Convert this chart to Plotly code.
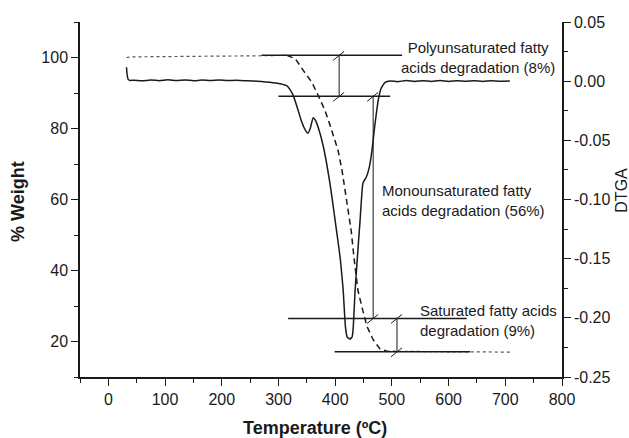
import plotly.graph_objects as go

# ---------------- data ----------------
# DTGA (right axis)
DTGA_T = [32, 33, 35, 38, 45, 60, 75, 90, 105, 120, 135, 150, 165, 180, 195, 210, 225, 240, 255, 270,
          285, 295, 303, 315, 321, 326, 333, 340, 347, 352, 356, 361, 365, 370, 379, 391, 400, 409, 414,
          418, 421, 426, 430, 432, 435, 439, 444, 449, 455, 460, 465, 470, 476, 481, 488, 497, 510, 525,
          540, 555, 570, 585, 600, 615, 630, 645, 660, 675, 690, 708]
DTGA_V = [0.0118, 0.006, 0.0015, 0.0006, 0.0008, 0.0003, 0.0010, 0.0004, 0.0011, 0.0005, 0.0010, 0.0004,
          0.0009, 0.0005, 0.0010, 0.0006, 0.0007, 0.0004, 0.0002, -0.0003, -0.0010, -0.0016, -0.0022,
          -0.0040, -0.0076, -0.012, -0.022, -0.033, -0.041, -0.044, -0.040, -0.031, -0.033, -0.039,
          -0.055, -0.087, -0.118, -0.150, -0.176, -0.207, -0.216, -0.218, -0.216, -0.207, -0.178, -0.150,
          -0.117, -0.086, -0.081, -0.073, -0.058, -0.037, -0.016, -0.006, -0.001, 0.0002, -0.0004, 0.0005,
          -0.0003, 0.0004, -0.0002, 0.0005, -0.0003, 0.0004, 0.0000, 0.0004, -0.0002, 0.0003, 0.0000, 0.0002]

# TGA (% weight, left axis)
TGA_T = [32, 40, 60, 100, 150, 200, 250, 300, 315, 330, 344, 359, 370, 382, 391, 400, 405, 412, 420, 428,
         434, 440, 447, 456, 467, 479, 491, 520, 560, 600, 640, 680, 712]
TGA_W = [100.0, 100.15, 100.2, 100.3, 100.35, 100.4, 100.45, 100.5, 100.6, 99.6, 96.3, 93.0, 89.3, 85.1,
         80.9, 76.7, 73.9, 68.3, 60.5, 51.5, 42.5, 34.5, 29.8, 24.3, 20.5, 17.9, 17.3, 17.2, 17.15, 17.1,
         17.1, 17.05, 17.0]

X_TICKS = [0, 100, 200, 300, 400, 500, 600, 700, 800]
LEFT_TICKS = [20, 40, 60, 80, 100]
RIGHT_TICKS = [-0.25, -0.20, -0.15, -0.10, -0.05, 0.00, 0.05]
RIGHT_LABELS = ["-0.25", "-0.20", "-0.15", "-0.10", "-0.05", "0.00", "0.05"]

# degradation step levels (% weight) and marker temperatures
LEVELS = [100.6, 89.05, 26.5, 17.1]
H_SPANS = [(270, 518), (300, 497), (317, 632), (399, 638)]
ARROWS = [(407, 0, 1), (467, 1, 2), (509, 2, 3)]   # x, from level idx, to level idx
LABELS = [
    ("Polyunsaturated fatty<br>acids degradation (8%)", 652, 100.0, "center"),
    ("Monounsaturated fatty<br>acids degradation (56%)", 479, 59.6, "left"),
    ("Saturated fatty acids<br>degradation (9%)", 546, 26.0, "left"),
]

FONT = "Liberation Sans, Arial, sans-serif"
INK = "#1a1a1a"

fig = go.Figure()

# TGA: dotted flat parts, dashed drop
flat1 = [i for i, t in enumerate(TGA_T) if t <= 315]
drop = [i for i, t in enumerate(TGA_T) if 315 <= t <= 491]
flat2 = [i for i, t in enumerate(TGA_T) if t >= 491]
for idx, dash, col, w in [(flat1, "dot", "#555", 1.2), (drop, "6px,4px", INK, 1.5), (flat2, "dot", "#555", 1.2)]:
    fig.add_trace(go.Scatter(x=[TGA_T[i] for i in idx], y=[TGA_W[i] for i in idx], mode="lines",
                             line=dict(color=col, width=w, dash=dash), yaxis="y", showlegend=False,
                             hoverinfo="skip"))

fig.add_trace(go.Scatter(x=DTGA_T, y=DTGA_V, mode="lines", yaxis="y2",
                         line=dict(color=INK, width=1.5, shape="spline", smoothing=0.4),
                         showlegend=False, hoverinfo="skip"))

shapes = []
for lvl, (a, b) in zip(LEVELS, H_SPANS):
    shapes.append(dict(type="line", xref="x", yref="y", x0=a, x1=b, y0=lvl, y1=lvl,
                       line=dict(color=INK, width=1.5)))
for x, i0, i1 in ARROWS:
    shapes.append(dict(type="line", xref="x", yref="y", x0=x, x1=x, y0=LEVELS[i0], y1=LEVELS[i1],
                       line=dict(color=INK, width=1)))
    for li in (i0, i1):
        shapes.append(dict(type="line", xref="x", yref="y", xsizemode="pixel", ysizemode="pixel",
                           xanchor=x, yanchor=LEVELS[li], x0=-6, x1=5, y0=-5, y1=4,
                           line=dict(color=INK, width=1)))

annotations = []
for text, x, y, align in LABELS:
    annotations.append(dict(text=text, x=x, y=y, xref="x", yref="y", showarrow=False,
                            xanchor="center" if align == "center" else "left", yanchor="middle",
                            align=align, font=dict(family=FONT, size=15, color=INK)))

# axis titles
annotations += [
    dict(text="<b>Temperature (ºC)</b>", xref="paper", yref="paper", x=0.4876, y=-0.1437,
         xanchor="center", yanchor="middle", showarrow=False, font=dict(family=FONT, size=18, color=INK)),
    dict(text="<b>% Weight</b>", xref="paper", yref="paper", x=-0.1286, y=0.493, textangle=-90,
         xanchor="center", yanchor="middle", showarrow=False, font=dict(family=FONT, size=18, color=INK)),
    dict(text="DTGA", xref="paper", yref="paper", x=1.124, y=0.527, textangle=-90,
         xanchor="center", yanchor="middle", showarrow=False, font=dict(family=FONT, size=16, color=INK)),
]

axis_common = dict(showline=True, linecolor=INK, linewidth=1.5, ticks="outside", ticklen=7,
                   tickwidth=1.2, tickcolor=INK, showgrid=False, zeroline=False, automargin=False,
                   tickfont=dict(family=FONT, size=16, color=INK))

fig.update_layout(
    width=629, height=438,
    margin=dict(l=80, r=67, t=22, b=61),
    paper_bgcolor="white", plot_bgcolor="white",
    xaxis=dict(range=[-50, 800], tickvals=X_TICKS, **axis_common,
               minor=dict(dtick=50, tick0=-50, ticklen=4, tickcolor=INK, tickwidth=1.2, ticks="outside")),
    yaxis=dict(range=[10, 110], tickvals=LEFT_TICKS, **axis_common,
               minor=dict(dtick=10, tick0=10, ticklen=4, tickcolor=INK, tickwidth=1.2, ticks="outside")),
    yaxis2=dict(range=[-0.25, 0.05], overlaying="y", side="right", tickvals=RIGHT_TICKS,
                ticktext=RIGHT_LABELS, **axis_common,
                minor=dict(dtick=0.025, tick0=-0.25, ticklen=4, tickcolor=INK, tickwidth=1.2, ticks="outside")),
    shapes=shapes, annotations=annotations,
)

fig.write_html("out.html")
